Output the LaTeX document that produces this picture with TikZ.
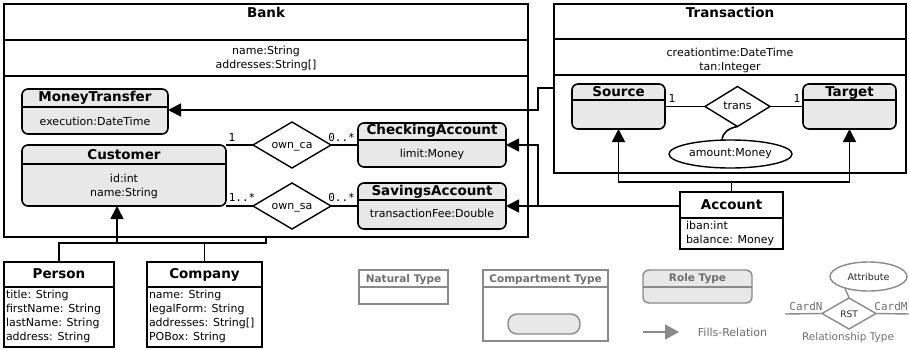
\documentclass[tikz,border=0pt]{standalone}
\usepackage{fontspec}
\setmainfont{DejaVu Sans}
\newfontfamily\cardfont{DejaVu Sans Mono}
\usetikzlibrary{arrows.meta,shapes.geometric}

\definecolor{rolefill}{HTML}{E8E8E8}
\definecolor{keyline}{HTML}{8A8A8A}
\definecolor{keytext}{HTML}{6E6E6E}

\tikzset{
  every node/.style={inner sep=0pt, outer sep=0pt},
  typebox/.style={draw, line width=1.6pt, rectangle},
  rolebox/.style={typebox, rounded corners=6pt, fill=rolefill},
  sepline/.style={line width=1.4pt},
  ttl/.style={font=\fontsize{13.5}{16}\selectfont\bfseries, text height=10pt, text depth=3pt},
  attr/.style={font=\fontsize{11}{14}\selectfont, align=center},
  attrl/.style={font=\fontsize{11}{14}\selectfont, align=left, anchor=west},
  card/.style={font=\cardfont\fontsize{11}{13}\selectfont, text height=8pt, text depth=0pt},
  rel/.style={draw, diamond, line width=1.4pt, fill=white},
  relname/.style={font=\fontsize{11}{13}\selectfont, text height=8pt, text depth=2.5pt},
  conn/.style={line width=1.6pt},
  fills/.style={conn, -{Triangle[length=13pt,width=13pt]}},
  keybox/.style={draw=keyline, line width=1.4pt, rectangle},
  keysep/.style={draw=keyline, line width=1.2pt},
  keyttl/.style={font=\fontsize{10.5}{12}\selectfont\bfseries, text=keytext, text height=8pt, text depth=2pt},
  keytxt/.style={font=\fontsize{10.5}{12}\selectfont, text=keytext},
}

\begin{document}
\begin{tikzpicture}[x=1pt, y=-1pt]
\useasboundingbox (0,0) rectangle (909,350);

% ---------------- compartment types ----------------
\node[typebox, minimum width=524pt, minimum height=233pt] (Bank) at (266,120.5) {};
\draw[sepline] (Bank.west |- 0,40) -- (Bank.east |- 0,40);
\draw[sepline] (Bank.west |- 0,76) -- (Bank.east |- 0,76);
\node[ttl] (Bank-t) at (266,14) {Bank};
\node[attr] (Bank-a) at (266,58) {name:String\\addresses:String[]};

\node[typebox, minimum width=352pt, minimum height=169pt] (Transaction) at (730,88.5) {};
\draw[sepline] (Transaction.west |- 0,39) -- (Transaction.east |- 0,39);
\draw[sepline] (Transaction.west |- 0,75) -- (Transaction.east |- 0,75);
\node[ttl] (Transaction-t) at (730,14) {Transaction};
\node[attr] (Transaction-a) at (730,60) {creationtime:DateTime\\tan:Integer};

% ---------------- role types ----------------
\node[rolebox, minimum width=146pt, minimum height=45pt] (MoneyTransfer) at (95,111.5) {};
\draw[sepline] (MoneyTransfer.west |- 0,107) -- (MoneyTransfer.east |- 0,107);
\node[ttl] (MoneyTransfer-t) at (95,98.5) {MoneyTransfer};
\node[attr] (MoneyTransfer-a) at (95,121) {execution:DateTime};

\node[rolebox, minimum width=204pt, minimum height=61pt] (Customer) at (124,175.5) {};
\draw[sepline] (Customer.west |- 0,164) -- (Customer.east |- 0,164);
\node[ttl] (Customer-t) at (124,155.5) {Customer};
\node[attr] (Customer-a) at (124,186) {id:int\\name:String};

\node[rolebox, minimum width=148pt, minimum height=44pt] (CheckingAccount) at (432,145) {};
\draw[sepline] (CheckingAccount.west |- 0,140) -- (CheckingAccount.east |- 0,140);
\node[ttl] (CheckingAccount-t) at (432,131) {CheckingAccount};
\node[attr] (CheckingAccount-a) at (432,154) {limit:Money};

\node[rolebox, minimum width=148pt, minimum height=46pt] (SavingsAccount) at (432,206) {};
\draw[sepline] (SavingsAccount.west |- 0,200) -- (SavingsAccount.east |- 0,200);
\node[ttl] (SavingsAccount-t) at (432,191.5) {SavingsAccount};
\node[attr] (SavingsAccount-a) at (432,213) {transactionFee:Double};

\node[rolebox, minimum width=93pt, minimum height=45pt] (Source) at (618.5,106.5) {};
\draw[sepline] (Source.west |- 0,100) -- (Source.east |- 0,100);
\node[ttl] (Source-t) at (618.5,93.5) {Source};

\node[rolebox, minimum width=93pt, minimum height=45pt] (Target) at (849.5,106.5) {};
\draw[sepline] (Target.west |- 0,100) -- (Target.east |- 0,100);
\node[ttl] (Target-t) at (849.5,93.5) {Target};

% ---------------- natural types ----------------
\node[typebox, minimum width=103pt, minimum height=57pt] (Account) at (731.5,220.5) {};
\draw[sepline] (Account.west |- 0,218) -- (Account.east |- 0,218);
\node[ttl] (Account-t) at (731.5,205.5) {Account};
\node[attrl] (Account-a) at (686,233.5) {iban:int\\balance: Money};

\node[typebox, minimum width=110pt, minimum height=85pt] (Person) at (59,304.5) {};
\draw[sepline] (Person.west |- 0,287) -- (Person.east |- 0,287);
\node[ttl] (Person-t) at (59,274.5) {Person};
\node[attrl] (Person-a) at (6,316.5) {title: String\\firstName: String\\lastName: String\\address: String};

\node[typebox, minimum width=115pt, minimum height=85pt] (Company) at (204.5,304.5) {};
\draw[sepline] (Company.west |- 0,287) -- (Company.east |- 0,287);
\node[ttl] (Company-t) at (204.5,274.5) {Company};
\node[attrl] (Company-a) at (149,316.5) {name: String\\legalForm: String\\addresses: String[]\\POBox: String};

% ---------------- relationship types ----------------
\node[rel, minimum width=78pt, minimum height=46pt] (own_ca) at (292,145) {};
\node[relname] (own_ca-n) at (292,145.5) {own\_ca};
\node[rel, minimum width=78pt, minimum height=46pt] (own_sa) at (292,206) {};
\node[relname] (own_sa-n) at (292,206.5) {own\_sa};
\node[rel, minimum width=65pt, minimum height=40pt] (trans) at (737.5,106.5) {};
\node[relname] (trans-n) at (737.5,107) {trans};
\node[draw, ellipse, line width=1.4pt, minimum width=123pt, minimum height=28pt,
      font=\fontsize{11}{13}\selectfont] (amount) at (730.5,154) {amount:Money};

\draw[conn] (Customer.north east) -- (own_ca.west);
\draw[conn] (own_ca.east) -- (CheckingAccount.west);
\draw[conn] (Customer.south east) -- (own_sa.west);
\draw[conn] (own_sa.east) -- (SavingsAccount.west);
\draw[conn] (Source.east) -- (trans.west);
\draw[conn] (trans.east) -- (Target.west);
\draw[conn] (trans.south) to[out=190,in=90] (amount.121);

\node[card] (c-ca-l) at (232,137) {1};
\node[card] (c-ca-r) at (341.5,137) {0..*};
\node[card] (c-sa-l) at (242,197.5) {1..*};
\node[card] (c-sa-r) at (341.5,197.5) {0..*};
\node[card] (c-tr-l) at (672,98.5) {1};
\node[card] (c-tr-r) at (797,98.5) {1};

% ---------------- fills relations ----------------
\coordinate (mtbend) at (538,110);
\draw[fills] (Transaction.west |- 0,88) -| (mtbend) -- (MoneyTransfer.east |- mtbend);

\coordinate (accjoin) at (538,206);
\draw[fills] (Account.west |- SavingsAccount.east) -- (SavingsAccount.east);
\draw[fills] (accjoin) |- (CheckingAccount.east);

\coordinate (accup) at (731.5,182);
\draw[conn] (Account.north) -- (accup);
\draw[fills] (accup) -| (Source.south);
\draw[fills] (accup) -| (Target.south);

\coordinate (pcbar) at (117,243);
\draw[conn] (Person.north) |- (Bank.south |- pcbar) -- (Bank.south);
\draw[conn] (Company.north) -- (Company.north |- pcbar);
\draw[fills] (pcbar) -- (pcbar |- Customer.south);

% ---------------- key ----------------
\node[keybox, minimum width=89pt, minimum height=34pt] (natkey) at (403.5,287) {};
\draw[keysep] (natkey.west |- 0,287) -- (natkey.east |- 0,287);
\node[keyttl] (natkey-t) at (403.5,279) {Natural Type};

\node[keybox, minimum width=125pt, minimum height=71pt] (compkey) at (545.5,305.5) {};
\draw[keysep] (compkey.west |- 0,287) -- (compkey.east |- 0,287);
\node[keyttl] (compkey-t) at (545.5,279) {Compartment Type};
\node[keybox, fill=rolefill, rounded corners=9pt, minimum width=72pt, minimum height=20pt] (compkey-in) at (544,324) {};

\node[keybox, fill=rolefill, rounded corners=6pt, minimum width=109pt, minimum height=33pt] (rolekey) at (697.5,286.5) {};
\draw[keysep] (rolekey.west |- 0,287) -- (rolekey.east |- 0,287);
\node[keyttl] (rolekey-t) at (697.5,278.5) {Role Type};

\coordinate (fillkey-a) at (643,332);
\coordinate (fillkey-b) at (679,332);
\draw[draw=keyline, line width=1.6pt, -{Triangle[length=14pt,width=15pt]}] (fillkey-a) -- (fillkey-b);
\node[keytxt, font=\fontsize{11}{13}\selectfont] (fillkey-t) at (732.5,332) {Fills-Relation};

\node[draw=keyline, diamond, line width=1.4pt, fill=white, minimum width=54pt, minimum height=31pt] (rstkey) at (849,313.5) {};
\node[font=\fontsize{9}{11}\selectfont, text=black!85] (rstkey-n) at (849,314.5) {RST};
\node[draw=keyline, ellipse, line width=1.4pt, minimum width=77pt, minimum height=29pt,
      font=\fontsize{9.5}{11}\selectfont, text=black!85] (attrkey) at (868.5,276.5) {Attribute};
\coordinate (cardkey-l) at (785,314);
\coordinate (cardkey-r) at (909,314);
\draw[draw=keyline, line width=1.4pt] (cardkey-l) -- (rstkey.west);
\draw[draw=keyline, line width=1.4pt] (rstkey.east) -- (cardkey-r);
\draw[draw=keyline, line width=1.4pt] (rstkey.north) to[out=105,in=-75] (attrkey.206);
\node[card, text=keytext] (cardkey-n) at (806,306.5) {CardN};
\node[card, text=keytext] (cardkey-m) at (891,306.5) {CardM};
\node[keytxt] (relkey-t) at (848,337.5) {Relationship Type};

\end{tikzpicture}
\end{document}
